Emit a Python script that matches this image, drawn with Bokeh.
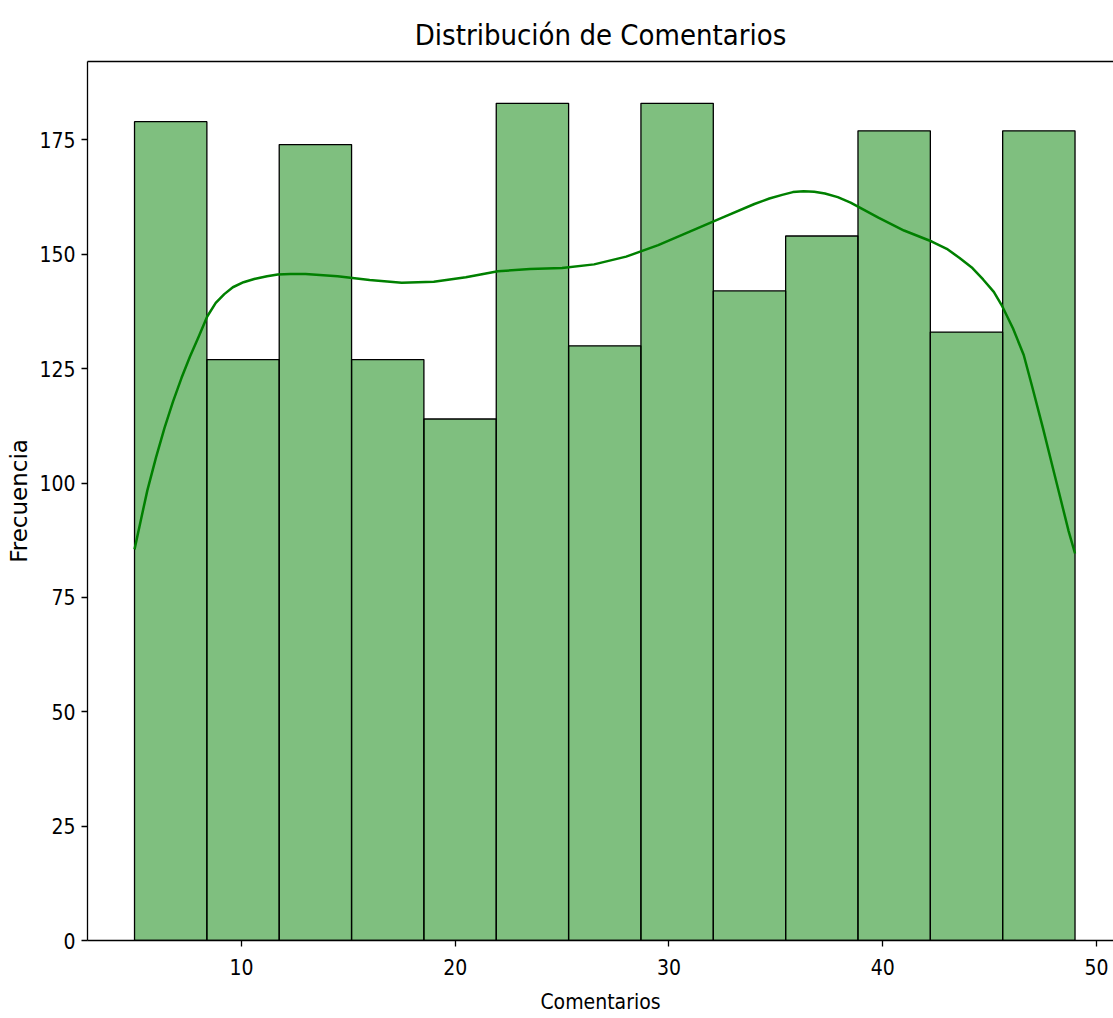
from bokeh.plotting import figure
from bokeh.models import LinearAxis, FixedTicker, Range1d
from bokeh.embed import file_html
from bokeh.resources import INLINE

# Histogram data
bin_edges = [5.0, 8.385, 11.769, 15.154, 18.538, 21.923, 25.308,
             28.692, 32.077, 35.462, 38.846, 42.231, 45.615, 49.0]
counts = [179, 127, 174, 127, 114, 183, 130, 183, 142, 154, 177, 133, 177]

# KDE curve
kde_x = [5.0, 5.3, 5.6, 6.0, 6.4, 6.8, 7.2, 7.6, 8.0, 8.4, 8.8, 9.2, 9.6,
         10.1, 10.6, 11.2, 11.7, 12.3, 13.0, 14.5, 16.0, 17.5, 19.0, 20.5,
         22.0, 23.5, 25.0, 26.5, 28.0, 29.5, 31.0, 32.5, 34.0, 34.7, 35.3,
         35.8, 36.3, 36.8, 37.3, 37.9, 38.5, 39.8, 41.0, 42.3, 43.0, 43.6,
         44.2, 44.7, 45.2, 45.6, 46.1, 46.6, 47.0, 47.5, 47.9, 48.3, 48.7,
         49.0]
kde_y = [85.5, 92.0, 98.4, 105.5, 112.0, 117.8, 123.0, 127.7, 132.0, 136.4,
         139.4, 141.3, 142.8, 143.9, 144.6, 145.2, 145.6, 145.7, 145.7, 145.2,
         144.4, 143.8, 144.0, 145.0, 146.3, 146.8, 147.0, 147.8, 149.5, 152.0,
         155.0, 158.0, 161.0, 162.2, 163.0, 163.6, 163.8, 163.7, 163.3, 162.5,
         161.3, 158.0, 155.2, 152.8, 151.2, 149.2, 147.0, 144.5, 141.8, 138.6,
         133.8, 128.0, 121.0, 112.0, 104.5, 97.0, 89.5, 84.6]

x_ticks = [10, 20, 30, 40, 50]
y_ticks = [0, 25, 50, 75, 100, 125, 150, 175]

NARROW = "DejaVu Sans Condensed, Roboto, sans-serif"

p = figure(width=1113, height=1018, output_backend="svg", toolbar_location=None,
           x_range=Range1d(2.8, 50.8), y_range=Range1d(0, 192.15),
           min_border_left=87, min_border_right=0, min_border_top=61,
           min_border_bottom=78, x_axis_location=None, y_axis_location=None)

p.title.text = "Distribución de Comentarios"
p.title.align = "center"
p.title.text_font = NARROW
p.title.text_font_size = "29px"
p.title.text_font_style = "normal"
p.title.text_color = "#000000"
p.title.offset = 0
p.title.standoff = 20

p.outline_line_color = None
p.xgrid.visible = False
p.ygrid.visible = False
p.background_fill_color = "white"
p.border_fill_color = "white"

p.quad(left=bin_edges[:-1], right=bin_edges[1:], bottom=0, top=counts,
       fill_color="#008000", fill_alpha=0.5, line_color="black", line_width=1.3)

p.line(kde_x, kde_y, line_color="#008000", line_width=2.5, line_join="round")

def style_axis(ax):
    ax.axis_line_color = "black"
    ax.axis_line_width = 1.3
    ax.major_tick_line_color = "black"
    ax.major_tick_line_width = 1.3
    ax.major_tick_out = 6
    ax.major_tick_in = 0
    ax.minor_tick_line_color = None
    ax.major_label_text_font = NARROW
    ax.major_label_text_font_size = "21px"
    ax.major_label_text_color = "black"
    ax.axis_label_text_font_style = "normal"
    ax.axis_label_text_color = "black"

xa = LinearAxis(ticker=FixedTicker(ticks=x_ticks), axis_label="Comentarios")
style_axis(xa)
xa.axis_label_text_font = NARROW
xa.axis_label_text_font_size = "21px"
xa.axis_label_standoff = 12
xa.major_label_standoff = 12
p.add_layout(xa, "below")

ya = LinearAxis(ticker=FixedTicker(ticks=y_ticks), axis_label="Frecuencia")
style_axis(ya)
ya.axis_label_text_font = "DejaVu Sans"
ya.axis_label_text_font_size = "23px"
ya.axis_label_standoff = 4
ya.major_label_standoff = 6
p.add_layout(ya, "left")

top = LinearAxis(ticker=FixedTicker(ticks=[]))
top.axis_line_color = "black"
top.axis_line_width = 1.3
top.major_tick_line_color = None
top.minor_tick_line_color = None
top.major_label_text_font_size = "0px"
p.add_layout(top, "above")

open("out.html", "w").write(file_html(p, INLINE))
